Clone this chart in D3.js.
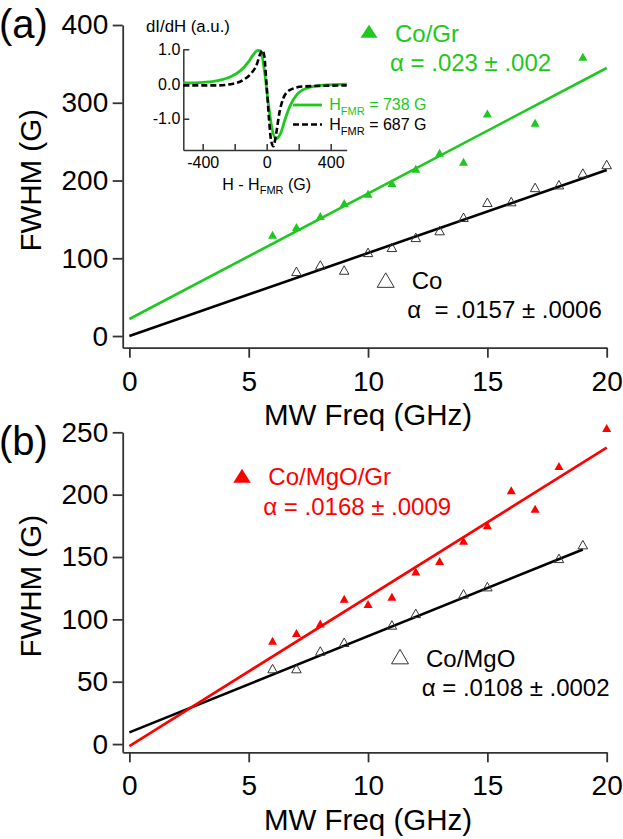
<!DOCTYPE html>
<html><head><meta charset="utf-8">
<script src="https://cdn.jsdelivr.net/npm/d3@7"></script>
<style>
body{margin:0;background:#fff}
svg{display:block}
text{font-family:"Liberation Sans",Arial,Helvetica,sans-serif}
</style>
</head><body>
<svg id="c" width="623" height="839"></svg>
<script>
// ---------- data: panel (a) ----------
const freqTicks = [0, 5, 10, 15, 20];
const fwhmTicksA = [0, 100, 200, 300, 400];
const freqCoGr = [6, 7, 8, 9, 10, 11, 12, 13, 14, 15, 17, 19];
const fwhmCoGr = [128.6, 138.5, 152.7, 169.5, 181.4, 195.1, 213.5, 234.1, 222.5, 284.6, 272.7, 357.6];
const freqCo = [7, 8, 9, 10, 11, 12, 13, 14, 15, 16, 17, 18, 19, 20];
const fwhmCo = [81.4, 89.6, 83.1, 105.8, 112.3, 125.1, 133.8, 150.9, 170.2, 171.1, 189.3, 192.8, 207.8, 218.8];
const fitFreqCoGr = [0, 20];
const fitFwhmCoGr = [21.9, 344.7];
const fitFreqCo = [0, 20];
const fitFwhmCo = [0, 213.5];

// ---------- data: panel (b) ----------
const fwhmTicksB = [0, 50, 100, 150, 200, 250];
const freqCoMgOGr = [6, 7, 8, 9, 10, 11, 12, 13, 14, 15, 16, 17, 18, 20];
const fwhmCoMgOGr = [81.8, 88.0, 95.7, 115.5, 111.3, 117.1, 137.4, 145.7, 162.0, 174.3, 202.4, 187.7, 221.9, 252.4];
const freqCoMgO = [6, 7, 8, 9, 11, 12, 14, 15, 18, 19];
const fwhmCoMgO = [59.4, 59.4, 73.5, 80.5, 94.4, 103.7, 119.3, 125.1, 147.8, 158.8];
const fitFreqCoMgOGr = [0, 20];
const fitFwhmCoMgOGr = [-1.6, 237.7];
const fitFreqCoMgO = [0, 19];
const fitFwhmCoMgO = [9.4, 156.0];

// ---------- data: inset (derivative spectra) ----------
const insetXTicks = [-400, -200, 0, 200, 400];
const insetYTicks = [-1.0, 0.0, 1.0];
const dHGr = [-521, -400, -312, -229, -167, -115, -83, -56, -36, -15, 10, 31, 58, 87, 114, 146, 187, 250, 354, 500];
const sigGr = [0.03, 0.05, 0.09, 0.20, 0.37, 0.63, 0.85, 0.97, 0.95, 0.41, -0.55, -1.23, -1.57, -1.42, -1.03, -0.63, -0.31, -0.12, -0.03, 0.0];
const dHCo = [-521, -312, -208, -146, -94, -62, -42, -27, -15, 0, 15, 27, 42, 58, 79, 104, 146, 229, 500];
const sigCo = [-0.04, -0.04, 0.01, 0.12, 0.32, 0.56, 0.85, 0.97, 0.80, -0.07, -1.03, -1.61, -1.79, -1.47, -0.84, -0.41, -0.17, -0.07, -0.04];

// ---------- styling ----------
const GREEN = "#1ec81e", RED = "#ff0000", AX = "#333";
const svg = d3.select("#c");
svg.append("rect").attr("width", 623).attr("height", 839).attr("fill", "#fff");

function tri(w, h) {
  return `M0,${-2 * h / 3}L${w / 2},${h / 3}L${-w / 2},${h / 3}Z`;
}
function styleAxis(g, fs) {
  g.attr("font-size", fs).attr("font-family", '"Liberation Sans",Arial,sans-serif');
  g.selectAll("path.domain").attr("stroke", AX).attr("stroke-width", 1.8);
  g.selectAll(".tick line").attr("stroke", AX).attr("stroke-width", 1.8);
  g.selectAll(".tick text").attr("fill", "#000");
}

function panel(o) {
  const x = d3.scaleLinear().domain([-0.28, 20]).range([122.7, 606.7]);
  const y = d3.scaleLinear().domain(o.yDomain).range(o.yRange);
  const g = svg.append("g");
  const gx = g.append("g").attr("transform", `translate(0,${o.yRange[0]})`)
    .call(d3.axisBottom(x).tickValues(freqTicks).tickSize(10).tickSizeOuter(0).tickPadding(13));
  styleAxis(gx, 28);
  const gy = g.append("g").attr("transform", `translate(${x.range()[0]},0)`)
    .call(d3.axisLeft(y).tickValues(o.yTicks).tickSize(10).tickSizeOuter(0).tickPadding(4.5));
  styleAxis(gy, 28);
  // axis titles
  g.append("text").attr("x", x(10)).attr("y", o.yRange[0] + 77.5)
    .attr("text-anchor", "middle").attr("font-size", 29.5).text("MW Freq (GHz)");
  const yc = (y.range()[0] + y.range()[1]) / 2 - 6;
  g.append("text").attr("transform", `translate(40.5,${yc}) rotate(-90)`)
    .attr("text-anchor", "middle").attr("font-size", 29.5).text("FWHM (G)");
  g.append("text").attr("x", -1).attr("y", o.labelY).attr("font-size", 40).text(o.label);

  const line = d3.line().x(d => x(d[0])).y(d => y(d[1]));
  o.fits.forEach(f => {
    g.append("path").attr("d", line(d3.zip(f.fx, f.fy)))
      .attr("fill", "none").attr("stroke", f.color).attr("stroke-width", 2.6);
  });
  o.series.forEach(s => {
    g.append("g").selectAll("path").data(d3.zip(s.fx, s.fy)).join("path")
      .attr("transform", d => `translate(${x(d[0])},${y(d[1])})`)
      .attr("d", s.open ? tri(9.5, 8.5) : tri(9, 8))
      .attr("fill", s.open ? "none" : s.color)
      .attr("stroke", s.open ? "#333" : "none")
      .attr("stroke-width", 1);
  });
  return g;
}

// ---------- panel (a) ----------
const ga = panel({
  yDomain: [-15, 400], yRange: [347.7, 25], yTicks: fwhmTicksA,
  label: "(a)", labelY: 37.5,
  fits: [
    { fx: fitFreqCoGr, fy: fitFwhmCoGr, color: GREEN },
    { fx: fitFreqCo, fy: fitFwhmCo, color: "#000" }
  ],
  series: [
    { fx: freqCoGr, fy: fwhmCoGr, color: GREEN, open: false },
    { fx: freqCo, fy: fwhmCo, color: "#000", open: true }
  ]
});
// legends (a)
ga.append("path").attr("transform", "translate(369,33.5)").attr("d", tri(17, 13)).attr("fill", GREEN);
ga.append("text").attr("x", 395).attr("y", 41.7).attr("font-size", 24).attr("fill", GREEN).text("Co/Gr");
ga.append("text").attr("x", 390).attr("y", 70.7).attr("font-size", 24).attr("fill", GREEN).text("α = .023 ± .002");
ga.append("path").attr("transform", "translate(385.7,282.5)").attr("d", tri(17, 14.5))
  .attr("fill", "none").attr("stroke", "#333").attr("stroke-width", 1);
ga.append("text").attr("x", 411.7).attr("y", 289.3).attr("font-size", 24).text("Co");
ga.append("text").attr("x", 407.3).attr("y", 318.3).attr("font-size", 24).style("white-space", "pre").text("α  = .0157 ± .0006");

// ---------- panel (b) ----------
const gb = panel({
  yDomain: [-6.6, 250], yRange: [752.3, 432.3], yTicks: fwhmTicksB,
  label: "(b)", labelY: 455,
  fits: [
    { fx: fitFreqCoMgO, fy: fitFwhmCoMgO, color: "#000" },
    { fx: fitFreqCoMgOGr, fy: fitFwhmCoMgOGr, color: RED }
  ],
  series: [
    { fx: freqCoMgOGr, fy: fwhmCoMgOGr, color: RED, open: false },
    { fx: freqCoMgO, fy: fwhmCoMgO, color: "#000", open: true }
  ]
});
gb.append("path").attr("transform", "translate(242,478)").attr("d", tri(17.5, 14)).attr("fill", RED);
gb.append("text").attr("x", 268.3).attr("y", 485).attr("font-size", 24).attr("fill", RED).text("Co/MgO/Gr");
gb.append("text").attr("x", 263.3).attr("y", 515).attr("font-size", 24).attr("fill", RED).text("α = .0168 ± .0009");
gb.append("path").attr("transform", "translate(400,659)").attr("d", tri(17, 14.5))
  .attr("fill", "none").attr("stroke", "#333").attr("stroke-width", 1);
gb.append("text").attr("x", 426).attr("y", 666.7).attr("font-size", 24).text("Co/MgO");
gb.append("text").attr("x", 421.7).attr("y", 696).attr("font-size", 24).text("α = .0108 ± .0002");

// ---------- inset ----------
const xi = d3.scaleLinear().domain([-521, 500]).range([183.3, 346.7]);
const yi = d3.scaleLinear().domain([-1.9, 1.0]).range([150, 49.3]);
const gi = svg.append("g");
const gix = gi.append("g").attr("transform", `translate(0,${yi.range()[0]})`)
  .call(d3.axisBottom(xi).tickValues(insetXTicks).tickSize(-6).tickSizeOuter(0).tickPadding(6.6)
    .tickFormat(d => (d % 400 === 0 ? String(d) : "")));
styleAxis(gix, 16);
gix.selectAll("path.domain, .tick line").attr("stroke-width", 1.5);
const giy = gi.append("g").attr("transform", `translate(${xi.range()[0]},0)`)
  .call(d3.axisLeft(yi).tickValues(insetYTicks).tickSize(-6).tickSizeOuter(0).tickPadding(3)
    .tickFormat(d => d.toFixed(1)));
styleAxis(giy, 16);
giy.selectAll("path.domain, .tick line").attr("stroke-width", 1.5);
gi.append("text").attr("x", 146).attr("y", 31.7).attr("font-size", 16.8).text("dI/dH (a.u.)");
const xt = gi.append("text").attr("x", xi(0)).attr("y", 190).attr("text-anchor", "middle").attr("font-size", 16);
xt.append("tspan").text("H - H");
xt.append("tspan").attr("font-size", 11).attr("dy", 4).text("FMR");
xt.append("tspan").attr("dy", -4).text(" (G)");

const li = d3.line().x(d => xi(d[0])).y(d => yi(d[1])).curve(d3.curveMonotoneX);
gi.append("path").attr("d", li(d3.zip(dHGr, sigGr))).attr("fill", "none")
  .attr("stroke", GREEN).attr("stroke-width", 2.8);
gi.append("path").attr("d", li(d3.zip(dHCo, sigCo))).attr("fill", "none")
  .attr("stroke", "#000").attr("stroke-width", 2.6).attr("stroke-dasharray", "6,3");

// inset legend
gi.append("line").attr("x1", 293).attr("x2", 322).attr("y1", 105).attr("y2", 105)
  .attr("stroke", GREEN).attr("stroke-width", 2.8);
gi.append("line").attr("x1", 293).attr("x2", 322).attr("y1", 124.5).attr("y2", 124.5)
  .attr("stroke", "#000").attr("stroke-width", 2.6).attr("stroke-dasharray", "6,3");
function hLabel(yb, val, color) {
  const t = gi.append("text").attr("x", 329.3).attr("y", yb).attr("font-size", 16).attr("fill", color);
  t.append("tspan").text("H");
  t.append("tspan").attr("font-size", 11).attr("dy", 5).text("FMR");
  t.append("tspan").attr("dy", -5).text(" = " + val + " G");
}
hLabel(109.8, 738, GREEN);
hLabel(129.8, 687, "#000");
</script>
</body></html>
